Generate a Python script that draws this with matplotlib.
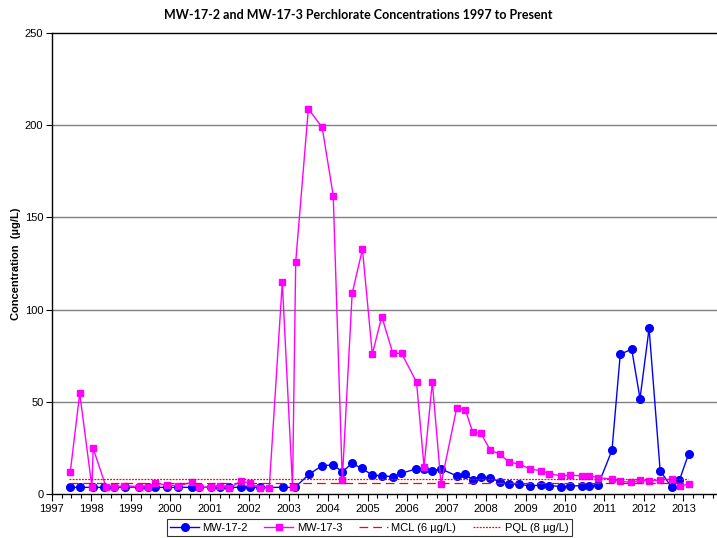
import matplotlib
matplotlib.use("Agg")
import matplotlib.pyplot as plt
from matplotlib.ticker import MultipleLocator
import numpy as np

plt.rcParams['font.family'] = ['Liberation Sans', 'DejaVu Sans']

# MW-17-2 (decimal year, concentration ug/L)
mw172_dates = [1997.47, 1997.71, 1998.04, 1998.32, 1998.57, 1998.85, 1999.20, 1999.43,
               1999.62, 1999.92, 2000.21, 2000.55, 2000.72, 2001.03, 2001.27, 2001.50,
               2001.80, 2002.03, 2002.28, 2002.85, 2003.16, 2003.52, 2003.85, 2004.13,
               2004.36, 2004.61, 2004.85, 2005.12, 2005.36, 2005.64, 2005.85, 2006.23,
               2006.43, 2006.64, 2006.86, 2007.26, 2007.48, 2007.66, 2007.87, 2008.11,
               2008.35, 2008.58, 2008.84, 2009.11, 2009.38, 2009.60, 2009.91, 2010.13,
               2010.42, 2010.62, 2010.84, 2011.19, 2011.40, 2011.69, 2011.90, 2012.13,
               2012.41, 2012.70, 2012.90, 2013.13]
mw172_vals = [3.6, 3.6, 3.6, 3.6, 3.6, 3.6, 3.8, 3.6,
              3.6, 3.6, 3.6, 3.6, 3.6, 3.6, 3.6, 3.6,
              3.6, 3.6, 3.6, 3.6, 3.6, 10.7, 15.4, 15.7,
              12.1, 16.6, 13.9, 10.3, 9.8, 9.4, 11.2, 13.6,
              13.6, 12.7, 13.6, 9.8, 10.7, 7.6, 9.4, 8.5,
              6.7, 5.4, 5.4, 4.3, 4.9, 4.6, 4.0, 4.2,
              4.6, 4.2, 4.9, 23.7, 75.8, 78.5, 51.7, 89.8,
              12.7, 3.6, 7.6, 21.7]

# MW-17-3
mw173_dates = [1997.47, 1997.71, 1998.02, 1998.05, 1998.38, 1998.57, 1998.83, 1999.20,
               1999.43, 1999.62, 1999.92, 2000.21, 2000.55, 2000.72, 2001.03, 2001.27,
               2001.50, 2001.80, 2002.03, 2002.28, 2002.51, 2002.84, 2003.10, 2003.18,
               2003.50, 2003.85, 2004.13, 2004.36, 2004.61, 2004.87, 2005.12, 2005.36,
               2005.64, 2005.86, 2006.24, 2006.43, 2006.64, 2006.86, 2007.26, 2007.48,
               2007.66, 2007.87, 2008.11, 2008.35, 2008.58, 2008.84, 2009.11, 2009.38,
               2009.60, 2009.91, 2010.13, 2010.42, 2010.62, 2010.84, 2011.19, 2011.40,
               2011.68, 2011.90, 2012.13, 2012.41, 2012.70, 2012.91, 2013.13]
mw173_vals = [11.8, 54.6, 3.6, 24.8, 3.6, 3.8, 4.5, 4.0,
              3.6, 5.8, 4.9, 4.5, 6.3, 3.8, 3.6, 4.5,
              3.3, 7.0, 5.8, 3.3, 3.3, 114.8, 3.6, 125.8,
              208.8, 198.8, 161.8, 7.6, 108.8, 132.7, 75.9, 96.2,
              76.3, 76.3, 60.7, 14.8, 60.7, 5.4, 46.8, 45.5,
              33.6, 32.9, 23.7, 21.7, 17.2, 16.3, 13.6, 12.6,
              11.0, 9.8, 10.3, 9.8, 9.8, 8.9, 8.1, 6.9,
              6.3, 7.4, 7.0, 7.6, 8.0, 4.5, 5.2]

limit_span = [1997.45, 2013.12]
mcl_value = 6
pql_value = 8

year_ticks = list(range(1997, 2014))
y_ticks = [0, 50, 100, 150, 200, 250]

fig = plt.figure(figsize=(7.17, 5.38), dpi=100)
ax = fig.add_axes([0.0721, 0.0818, 0.9279, 0.8569])

ax.plot(mw172_dates, mw172_vals, color='#0000FF', lw=1.0, marker='o', ms=5.5,
        label='MW-17-2', zorder=3)
ax.plot(mw173_dates, mw173_vals, color='#FF00FF', lw=1.0, marker='s', ms=5,
        label='MW-17-3', zorder=4)
ax.plot(limit_span, [mcl_value, mcl_value], color='#FF0000', lw=0.9,
        dashes=(7, 4), label='MCL (6 µg/L)', zorder=5)
ax.plot(limit_span, [pql_value, pql_value], color='#FF0000', lw=0.9,
        dashes=(1.5, 1), label='PQL (8 µg/L)', zorder=5)

ax.set_xlim(1997, 2013.85)
ax.set_ylim(0, 250)
ax.set_xticks(year_ticks)
ax.set_xticklabels([str(y) for y in year_ticks], fontsize=8)
ax.xaxis.set_minor_locator(MultipleLocator(0.25))
ax.set_yticks(y_ticks)
ax.set_yticklabels([str(v) for v in y_ticks], fontsize=8)
ax.tick_params(axis='x', which='major', direction='out', length=5, width=0.8, pad=2)
ax.tick_params(axis='x', which='minor', direction='out', length=3, width=0.8)
ax.tick_params(axis='y', direction='out', length=4, width=0.8, pad=2)

for v in y_ticks[1:-1]:
    ax.axhline(v, color='#808080', lw=1.0, zorder=1)
ax.spines['top'].set_color('black')
ax.spines['top'].set_linewidth(1.0)
ax.spines['right'].set_visible(False)
ax.spines['left'].set_linewidth(1.0)
ax.spines['bottom'].set_linewidth(1.0)

ax.set_ylabel('Concentration  (µg/L)', fontsize=8, fontweight='bold', labelpad=3)
fig.text(0.5, 0.972, 'MW-17-2 and MW-17-3 Perchlorate Concentrations 1997 to Present',
         ha='center', va='center', fontsize=9, fontweight='bold', family=['Lato', 'DejaVu Sans'])

leg = fig.legend(loc='center', bbox_to_anchor=(0.515, 0.0195), ncol=4, fontsize=8,
                 frameon=True, fancybox=False, edgecolor='black', borderpad=0.3,
                 handlelength=2.6, columnspacing=1.5, handletextpad=0.3)
leg.get_frame().set_linewidth(0.8)

fig.savefig('out.png', dpi=100)
